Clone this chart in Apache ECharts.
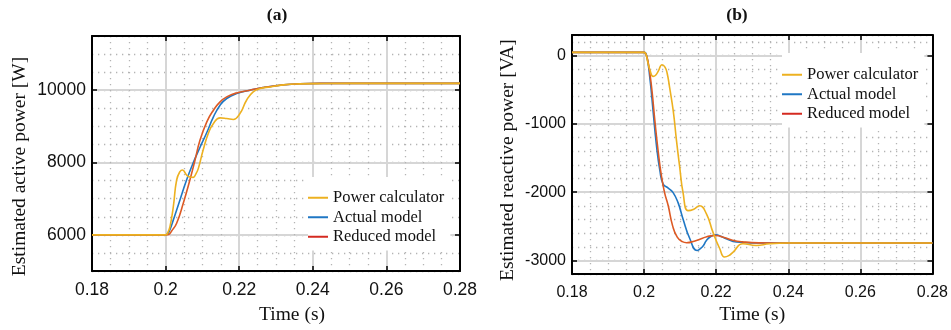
<!DOCTYPE html>
<html><head><meta charset="utf-8">
<script src="https://cdn.jsdelivr.net/npm/echarts@6/dist/echarts.min.js"></script>
<style>html,body{margin:0;padding:0;background:#fff}#c{width:951px;height:330px}</style>
</head><body><div id="c"></div>
<script>
// ---------- Panel (a): estimated active power [W] ----------
const tPowerA   = [0.18, 0.2, 0.2006, 0.2012, 0.2021, 0.203, 0.2039, 0.2046, 0.2057, 0.2066, 0.2075, 0.2082, 0.2089, 0.2102, 0.2116, 0.213, 0.2148, 0.2166, 0.2184, 0.2202, 0.222, 0.2238, 0.2257, 0.2284, 0.232, 0.2365, 0.241, 0.25, 0.28];
const vPowerA   = [6000, 6000, 6060, 6230, 6781, 7517, 7747, 7793, 7655, 7600, 7591, 7680, 7839, 8345, 8805, 9081, 9236, 9219, 9192, 9357, 9724, 9954, 10047, 10091, 10147, 10175, 10184, 10190, 10190];
const tActualA  = [0.18, 0.2, 0.2006, 0.2012, 0.2021, 0.2039, 0.2057, 0.2075, 0.2093, 0.2112, 0.213, 0.2148, 0.2166, 0.2193, 0.2229, 0.2265, 0.2311, 0.2365, 0.242, 0.28];
const vActualA  = [6000, 6000, 6030, 6150, 6414, 6966, 7517, 7990, 8410, 8830, 9263, 9586, 9771, 9909, 10000, 10074, 10138, 10180, 10190, 10190];
const tReducedA = [0.18, 0.2, 0.2008, 0.2016, 0.203, 0.2048, 0.2066, 0.208, 0.2093, 0.2112, 0.213, 0.2148, 0.2166, 0.2193, 0.2229, 0.2265, 0.2311, 0.2365, 0.242, 0.28];
const vReducedA = [6000, 6000, 6010, 6100, 6322, 6874, 7517, 8069, 8600, 9126, 9448, 9678, 9816, 9926, 10000, 10074, 10138, 10180, 10190, 10190];

// ---------- Panel (b): estimated reactive power [VA] ----------
const tPowerB   = [0.18, 0.2, 0.2005, 0.201, 0.2016, 0.2025, 0.2032, 0.2039, 0.205, 0.2058, 0.2064, 0.2071, 0.2081, 0.209, 0.2099, 0.2108, 0.2122, 0.2138, 0.2154, 0.2173, 0.2191, 0.221, 0.2223, 0.2235, 0.2247, 0.2274, 0.2311, 0.2348, 0.24, 0.28];
const vPowerB   = [45, 45, 20, -90, -208, -306, -290, -233, -135, -170, -260, -475, -815, -1250, -1640, -2004, -2271, -2250, -2199, -2319, -2586, -2829, -2950, -2930, -2877, -2756, -2781, -2756, -2745, -2745];
const tActualB  = [0.18, 0.2, 0.2007, 0.2016, 0.2025, 0.2034, 0.2044, 0.2053, 0.2067, 0.208, 0.2094, 0.2108, 0.2127, 0.2147, 0.2162, 0.2173, 0.2186, 0.22, 0.2214, 0.2228, 0.2256, 0.23, 0.24, 0.28];
const vActualB  = [45, 45, 0, -329, -815, -1300, -1689, -1883, -1941, -2004, -2150, -2392, -2683, -2854, -2800, -2708, -2645, -2625, -2650, -2683, -2731, -2743, -2745, -2745];
const tReducedB = [0.18, 0.2, 0.2005, 0.2011, 0.2021, 0.203, 0.2039, 0.2048, 0.2057, 0.2067, 0.2079, 0.2092, 0.2106, 0.2118, 0.2139, 0.2162, 0.2185, 0.2199, 0.2222, 0.2245, 0.2273, 0.2318, 0.24, 0.28];
const vReducedB = [45, 45, 20, -87, -475, -961, -1398, -1760, -2010, -2200, -2490, -2660, -2725, -2740, -2718, -2675, -2640, -2636, -2665, -2704, -2728, -2743, -2745, -2745];

// ---------- ticks / labels ----------
const seriesNames = ['Power calculator', 'Actual model', 'Reduced model'];
const yTicksA = [6000, 8000, 10000];
const yTicksB = [-3000, -2000, -1000, 0];
const titles = ['(a)', '(b)'];
const yNames = ['Estimated active power [W]', 'Estimated reactive power [VA]'];
const xName = 'Time (s)';

const zip = (t, v) => t.map((x, i) => [x, v[i]]);
const SANS = 'Liberation Sans', SERIF = 'Liberation Serif';
const COL = {p: '#EDB120', a: '#1F77C4', r: '#DD5A24'};
const LEG_COL = ['#EDB120', '#1F77C4', '#D42A20'];
const BLACK = {color: '#000', width: 2};

function xMain(gi, fs, margin, gap, pad) {
  return {type: 'value', gridIndex: gi, position: 'bottom', min: 0.18, max: 0.28, interval: 0.02,
    axisLine: {show: true, onZero: false, lineStyle: BLACK},
    axisTick: {show: true, inside: true, length: 5, lineStyle: {color: '#000', width: 1.5}},
    axisLabel: {fontFamily: SANS, fontSize: fs, color: '#111', margin: margin,
      formatter: v => String(Math.round(v * 100) / 100)},
    splitLine: {show: true, lineStyle: {color: '#d6d6d6', width: 2}},
    minorTick: {show: false, splitNumber: 4},
    minorSplitLine: {show: true, lineStyle: {color: '#b4b4b4', width: 1.3, type: [1.3, 4.7]}},
    name: xName, nameLocation: 'middle', nameGap: gap,
    nameTextStyle: {fontFamily: SERIF, fontSize: 19.5, color: '#111', padding: pad}};
}
function xTop(gi) {
  return {type: 'value', gridIndex: gi, position: 'top', min: 0.18, max: 0.28, interval: 0.02,
    axisLine: {show: true, onZero: false, lineStyle: BLACK},
    axisTick: {show: true, inside: true, length: 5, lineStyle: {color: '#000', width: 1.5}},
    axisLabel: {show: false}, splitLine: {show: false}};
}
function yDots(gi, min, max, step) {
  return {type: 'value', gridIndex: gi, position: 'left', min: min, max: max, interval: step,
    axisLine: {show: false}, axisTick: {show: false}, axisLabel: {show: false},
    splitLine: {show: true, lineStyle: {color: '#b4b4b4', width: 1.3, type: [1.3, 4.7]}}};
}
function yMain(gi, min, max, step, ticks, fs, name, gap, pad) {
  return {type: 'value', gridIndex: gi, position: 'left', min: min, max: max, interval: step,
    axisLine: {show: true, onZero: false, lineStyle: BLACK},
    axisTick: {show: true, inside: true, length: 5, customValues: ticks, lineStyle: {color: '#000', width: 1.5}},
    axisLabel: {fontFamily: SANS, fontSize: fs, color: '#111', margin: 6, customValues: ticks,
      formatter: v => String(v)},
    splitLine: {show: true, lineStyle: {color: '#d6d6d6', width: 2}},
    name: name, nameLocation: 'middle', nameGap: gap,
    nameTextStyle: {fontFamily: SERIF, fontSize: 19.5, color: '#111', padding: pad}};
}
function yRight(gi, min, max, step, ticks) {
  return {type: 'value', gridIndex: gi, position: 'right', min: min, max: max, interval: step,
    axisLine: {show: true, onZero: false, lineStyle: BLACK},
    axisTick: {show: true, inside: true, length: 5, customValues: ticks, lineStyle: {color: '#000', width: 1.5}},
    axisLabel: {show: false}, splitLine: {show: false}};
}
function line(name, data, color, xi, yi) {
  return {type: 'line', name: name, data: data, xAxisIndex: xi, yAxisIndex: yi,
    showSymbol: false, symbol: 'none', smooth: 0.5,
    lineStyle: {color: color, width: 1.6}, itemStyle: {color: color}, z: 3};
}
function legend(left, top, padTop) {
  return {left: left, top: top, orient: 'vertical', icon: 'rect', itemWidth: 20, itemHeight: 2,
    itemGap: 0, padding: [padTop, 6, 4, 0], backgroundColor: '#fff',
    textStyle: {fontFamily: SERIF, fontSize: 16.5, color: '#111', lineHeight: 19.5},
    data: seriesNames.map((n, i) => ({name: n, itemStyle: {color: LEG_COL[i]}}))};
}

const chart = echarts.init(document.getElementById('c'), null, {renderer: 'canvas'});
chart.setOption({
  animation: false,
  backgroundColor: '#fff',
  title: [
    {text: titles[0], left: 277, top: 6, padding: 0, textAlign: 'center',
      textStyle: {fontFamily: SERIF, fontWeight: 'bold', fontSize: 17.5, color: '#111'}},
    {text: titles[1], left: 737, top: 6, padding: 0, textAlign: 'center',
      textStyle: {fontFamily: SERIF, fontWeight: 'bold', fontSize: 17.5, color: '#111'}}
  ],
  grid: [
    {left: 92, top: 36, width: 368, height: 235},
    {left: 572, top: 35, width: 361, height: 240}
  ],
  xAxis: [xMain(0, 17.5, 10, 34, [0, 0, 0, 32]), xTop(0), xMain(1, 16, 10, 30, 0), xTop(1)],
  yAxis: [
    yDots(0, 5000, 11500, 500),
    yMain(0, 5000, 11500, 500, yTicksA, 17.5, yNames[0], 62, [0, 26, 0, 0]),
    yRight(0, 5000, 11500, 500, yTicksA),
    yDots(1, -3200, 300, 200),
    yMain(1, -3200, 300, 200, yTicksB, 16, yNames[1], 54, [0, 11, 0, 0]),
    yRight(1, -3200, 300, 200, yTicksB)
  ],
  legend: [legend(308, 177, 11), legend(782, 53, 12)],
  series: [
    line(seriesNames[1], zip(tActualA, vActualA), COL.a, 0, 1),
    line(seriesNames[2], zip(tReducedA, vReducedA), COL.r, 0, 1),
    line(seriesNames[0], zip(tPowerA, vPowerA), COL.p, 0, 1),
    line(seriesNames[1], zip(tActualB, vActualB), COL.a, 2, 4),
    line(seriesNames[2], zip(tReducedB, vReducedB), COL.r, 2, 4),
    line(seriesNames[0], zip(tPowerB, vPowerB), COL.p, 2, 4)
  ]
});
</script>
</body></html>
